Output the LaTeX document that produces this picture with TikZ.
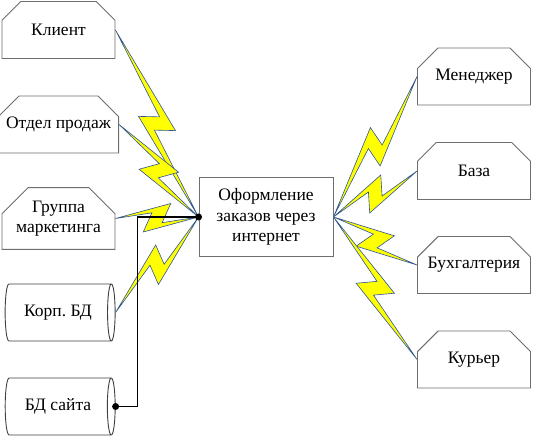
\documentclass[tikz,border=0pt]{standalone}
\usepackage{fontspec}
\setmainfont{Liberation Serif}
\newfontfamily\labelfont{Liberation Serif}
\usetikzlibrary{calc,shapes.misc,shapes.geometric}
\frenchspacing

\definecolor{boltblue}{RGB}{47,85,151}
\definecolor{boltyellow}{RGB}{255,255,0}
\definecolor{edgegray}{RGB}{110,110,110}

\begin{document}
\begin{tikzpicture}[x=1pt, y=-1pt, line width=0.9pt,
    font=\labelfont\fontsize{17.5}{20.5}\selectfont,
    unit/.style = {chamfered rectangle, chamfered rectangle corners={north west,north east},
                   chamfered rectangle xsep=13pt, chamfered rectangle ysep=13pt,
                   draw=edgegray, fill=white, align=center, inner sep=0pt,
                   minimum width=113pt, minimum height=57pt},
    store/.style = {cylinder, aspect=0.5, draw=black!75, fill=white, inner sep=0pt,
                    minimum height=110pt, minimum width=57pt},
    proc/.style = {rectangle, draw=edgegray, fill=white, align=center,
                   minimum width=134pt, minimum height=79pt},
    bolt/.style = {draw=boltblue, fill=boltyellow, line width=0.6pt,
                   to path={let \p1 = ($(\tikztostart)!.5!(\tikztotarget)$) in
                     -- ($(\x1,\y1)!19.8pt!45:(\tikztotarget)$)
                     -- ($(\x1,\y1)!7.1pt!-45:(\tikztotarget)$)
                     -- (\tikztotarget)
                     -- ($(\x1,\y1)!19.8pt!-135:(\tikztotarget)$)
                     -- ($(\x1,\y1)!7.1pt!135:(\tikztotarget)$)
                     -- cycle}}]

\useasboundingbox (0,0) rectangle (533,438);

% sources
\node [unit] (klient) at (58.5,30) {Клиент};
\node [unit] (sales) at (58.5,124.5) {Отдел продаж};
\node [unit] (marketing) at (58.5,218.5) {Группа\\маркетинга};
\node [store] (corpdb) at (58,312.5) {Корп. БД};
\node [store] (sitedb) at (58,406.5) {БД сайта};

% process
\node [proc] (proc) at (266,217) {Оформление\\заказов через\\интернет};

% receivers
\node [unit] (manager) at (474,76.5) {Менеджер};
\node [unit] (base) at (474,171) {База};
\node [unit] (accounting) at (474,265) {Бухгалтерия};
\node [unit] (courier) at (474,359.5) {Курьер};

% information flows
\draw [bolt] (klient.east) to (proc.west);
\draw [bolt] (sales.east) to (proc.west);
\draw [bolt] (marketing.east) to (proc.west);
\draw [bolt] (corpdb.east) to (proc.west);

\draw [bolt] (proc.east) to (manager.west);
\draw [bolt] (proc.east) to (base.west);
\draw [bolt] (proc.east) to (accounting.west);
\draw [bolt] (proc.east) to (courier.west);

% data link
\draw [line width=1.2pt] (sitedb.east) -- ++(22,0) |- (proc.west);
\fill (sitedb.east) circle (3.5pt);
\fill (proc.west) circle (3.5pt);
\end{tikzpicture}
\end{document}
